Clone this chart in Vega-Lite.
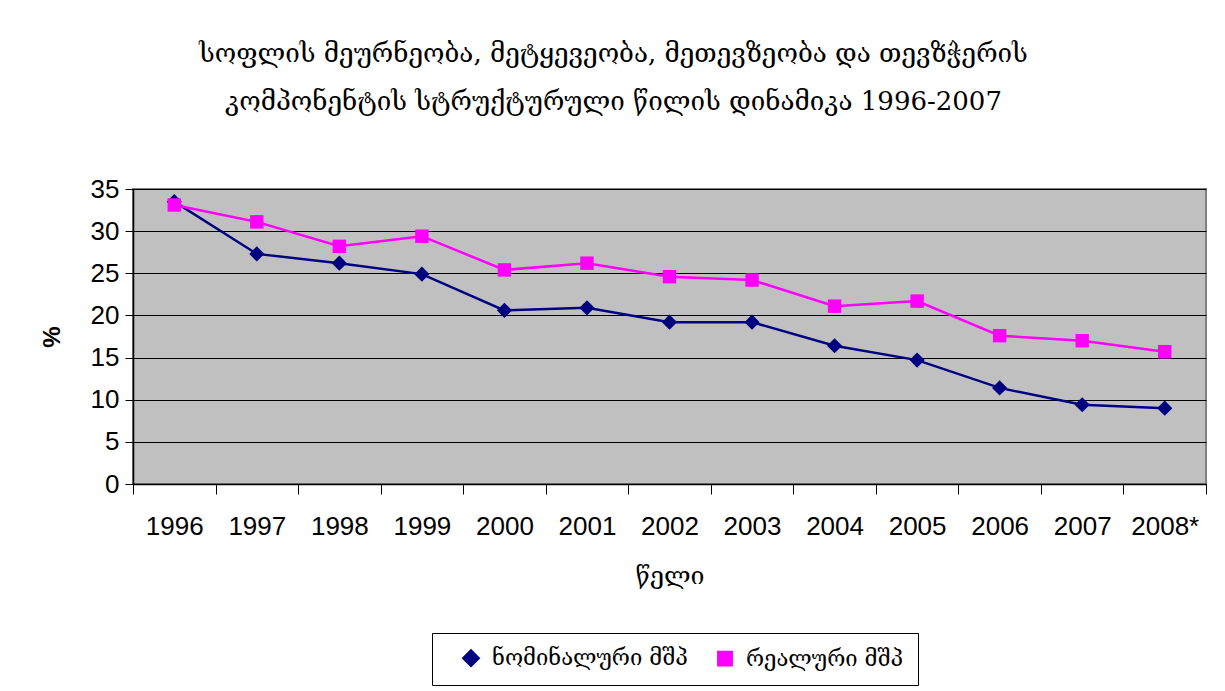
{
  "$schema": "https://vega.github.io/schema/vega-lite/v6.json",
  "autosize": "none",
  "width": 1073,
  "height": 295,
  "padding": {"left": 133, "top": 189, "right": 19, "bottom": 207},
  "background": "white",
  "title": {
    "text": ["სოფლის მეურნეობა, მეტყევეობა, მეთევზეობა და თევზჭერის", "კომპონენტის სტრუქტურული წილის დინამიკა 1996-2007"],
    "anchor": "middle",
    "frame": "group",
    "dx": -56,
    "offset": 61,
    "font": "DejaVu Serif",
    "fontSize": 26,
    "fontWeight": "normal",
    "lineHeight": 48,
    "color": "black"
  },
  "data": {
    "values": [
      {"year": "1996", "series": "ნომინალური მშპ", "value": 33.5},
      {"year": "1997", "series": "ნომინალური მშპ", "value": 27.3},
      {"year": "1998", "series": "ნომინალური მშპ", "value": 26.2},
      {"year": "1999", "series": "ნომინალური მშპ", "value": 24.9},
      {"year": "2000", "series": "ნომინალური მშპ", "value": 20.6},
      {"year": "2001", "series": "ნომინალური მშპ", "value": 20.9},
      {"year": "2002", "series": "ნომინალური მშპ", "value": 19.2},
      {"year": "2003", "series": "ნომინალური მშპ", "value": 19.2},
      {"year": "2004", "series": "ნომინალური მშპ", "value": 16.4},
      {"year": "2005", "series": "ნომინალური მშპ", "value": 14.7},
      {"year": "2006", "series": "ნომინალური მშპ", "value": 11.4},
      {"year": "2007", "series": "ნომინალური მშპ", "value": 9.4},
      {"year": "2008*", "series": "ნომინალური მშპ", "value": 9.0},
      {"year": "1996", "series": "რეალური მშპ", "value": 33.1},
      {"year": "1997", "series": "რეალური მშპ", "value": 31.1},
      {"year": "1998", "series": "რეალური მშპ", "value": 28.2},
      {"year": "1999", "series": "რეალური მშპ", "value": 29.4},
      {"year": "2000", "series": "რეალური მშპ", "value": 25.4},
      {"year": "2001", "series": "რეალური მშპ", "value": 26.2},
      {"year": "2002", "series": "რეალური მშპ", "value": 24.6},
      {"year": "2003", "series": "რეალური მშპ", "value": 24.2},
      {"year": "2004", "series": "რეალური მშპ", "value": 21.1},
      {"year": "2005", "series": "რეალური მშპ", "value": 21.7},
      {"year": "2006", "series": "რეალური მშპ", "value": 17.6},
      {"year": "2007", "series": "რეალური მშპ", "value": 17.0},
      {"year": "2008*", "series": "რეალური მშპ", "value": 15.7}
    ]
  },
  "encoding": {
    "x": {
      "field": "year",
      "type": "ordinal",
      "scale": {"type": "band", "paddingInner": 0, "paddingOuter": 0},
      "axis": {
        "title": "წელი",
        "titleFont": "DejaVu Serif",
        "titleFontSize": 25,
        "titleFontWeight": "normal",
        "titleColor": "black",
        "titlePadding": 24,
        "labelAngle": 0,
        "labelFont": "Liberation Sans",
        "labelFontSize": 26,
        "labelColor": "black",
        "labelPadding": 19,
        "tickBand": "extent",
        "tickSize": 10,
        "tickColor": "black",
        "domainColor": "black",
        "domainWidth": 1.5,
        "grid": false
      }
    },
    "y": {
      "field": "value",
      "type": "quantitative",
      "scale": {"domain": [0, 35], "nice": false},
      "axis": {
        "title": "%",
        "titleFont": "Liberation Sans",
        "titleFontSize": 24,
        "titleFontWeight": "bold",
        "titleColor": "black",
        "titlePadding": 26,
        "values": [0, 5, 10, 15, 20, 25, 30, 35],
        "labelFont": "Liberation Sans",
        "labelFontSize": 26,
        "labelColor": "black",
        "labelPadding": 6,
        "tickSize": 8,
        "tickColor": "black",
        "domainColor": "black",
        "domainWidth": 1.5,
        "grid": true,
        "gridColor": "black",
        "gridWidth": 1.2
      }
    },
    "color": {
      "field": "series",
      "type": "nominal",
      "scale": {"domain": ["ნომინალური მშპ", "რეალური მშპ"], "range": ["#000080", "#FF00FF"]},
      "legend": {
        "title": null,
        "orient": "none",
        "legendX": 299,
        "legendY": 444,
        "direction": "horizontal",
        "strokeColor": "black",
        "fillColor": "white",
        "padding": 14,
        "labelFont": "DejaVu Serif",
        "labelFontSize": 22,
        "labelColor": "black",
        "labelOffset": 10,
        "symbolSize": 260,
        "symbolStrokeWidth": 2.5,
        "symbolOffset": 14,
        "columnPadding": 12,
        "labelLimit": 300
      }
    }
  },
  "layer": [
    {
      "mark": {"type": "line", "strokeWidth": 2.5}
    },
    {
      "mark": {"type": "point", "filled": true, "opacity": 1},
      "encoding": {
        "shape": {
          "field": "series",
          "type": "nominal",
          "scale": {"domain": ["ნომინალური მშპ", "რეალური მშპ"], "range": ["diamond", "square"]},
          "legend": null
        },
        "size": {
          "field": "series",
          "type": "nominal",
          "scale": {"domain": ["ნომინალური მშპ", "რეალური მშპ"], "range": [230, 180]},
          "legend": null
        }
      }
    }
  ],
  "config": {
    "view": {"fill": "#C0C0C0", "stroke": "#808080", "strokeWidth": 2}
  }
}
